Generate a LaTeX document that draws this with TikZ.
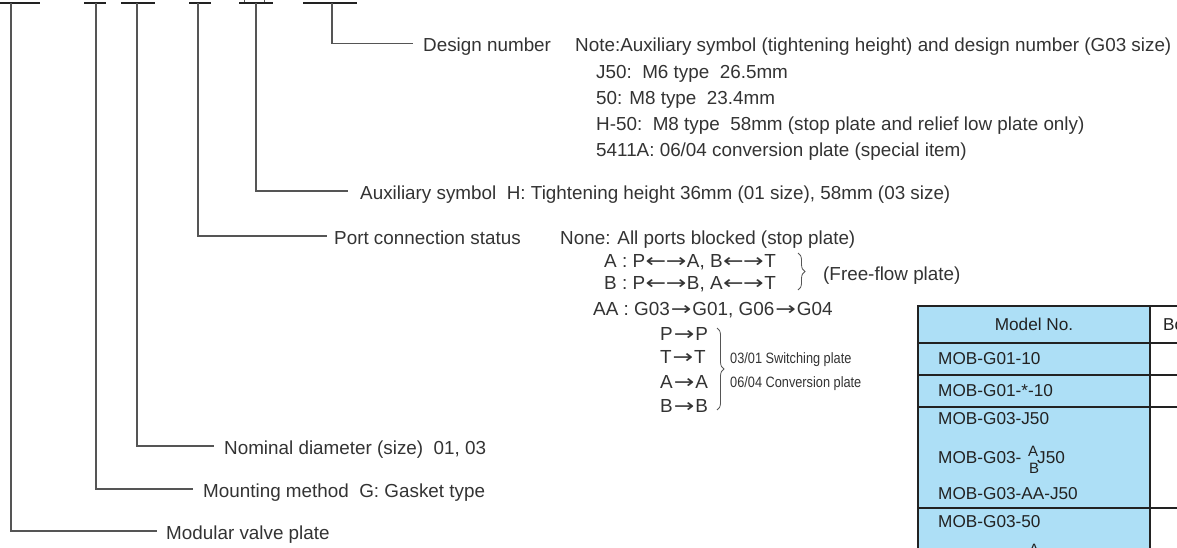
\documentclass[tikz,border=0pt]{standalone}
\usepackage{fontspec}
\setmainfont{Liberation Sans}
\newfontfamily\condfont[FakeStretch=0.85]{Liberation Sans}
\newfontfamily\arrfont{DejaVu Sans}
\newcommand{\lra}{{\kern0.03em\arrfont\scalebox{1.3}[1]{←}\kern-0.03em\scalebox{1.3}[1]{→}\kern0.03em}}
\newcommand{\ra}{{\kern0.05em\arrfont\scalebox{1.3}[1]{→}\kern0.05em}}
\usetikzlibrary{decorations.pathreplacing}
\definecolor{txt}{HTML}{333333}
\definecolor{lead}{HTML}{555555}
\definecolor{tblue}{HTML}{ADDFF6}
\definecolor{tline}{HTML}{222222}
\begin{document}
\begin{tikzpicture}[x=1pt,y=-1pt,
 lbl/.style={anchor=base west, inner sep=0pt, text height=16pt, text depth=0pt, text=txt, font=\fontsize{18.85}{22}\selectfont},
 arrt/.style={anchor=base west, inner sep=0pt, text=txt, font=\fontsize{18.9}{22}\selectfont},
 cond/.style={anchor=base west, inner sep=0pt, text=txt, font=\condfont\fontsize{15}{18}\selectfont},
 tbl/.style={anchor=base west, inner sep=0pt, text=tline, font=\fontsize{17.2}{20}\selectfont},
 small/.style={anchor=base, inner sep=0pt, text=tline, font=\fontsize{15}{16}\selectfont},
 bar/.style={draw=tline, line width=1.4pt},
 leader/.style={draw=lead, line width=1.2pt},
 brc/.style={draw=lead, line width=0.8pt, decorate, decoration={brace, amplitude=7pt}},
 gridline/.style={draw=tline, line width=2.2pt}
]
\useasboundingbox (0,0) rectangle (1177,547);
\clip (0,0) rectangle (1177,547);

% top bars
\draw[bar] (0,3) -- (40,3);
\draw[bar] (84,3) -- (106,3);
\draw[bar] (121,3) -- (155,3);
\draw[bar] (189,3) -- (211,3);
\draw[bar] (239,3) -- (273,3);
\draw[bar] (303,3) -- (357,3);
\draw[lead, line width=0.8pt] (244,0) -- (244,1.5) (264,0) -- (264,1.5);
\coordinate (s1) at (11,3);
\coordinate (s2) at (96,3);
\coordinate (s3) at (137,3);
\coordinate (s4) at (198,3);
\coordinate (s5) at (256,3);
\coordinate (s6) at (332,3);

% labels
\node[lbl] (l6) at (423,51.5) {Design number};
\node[lbl] (note) at (575,51.5) {Note:Auxiliary symbol (tightening height) and design number (G03 size)};
\node[lbl] (n1) at (596,78) {J50:\ \ M6 type\ \ 26.5mm};
\node[lbl] (n2) at (596,104) {50: M8 type\ \ 23.4mm};
\node[lbl] (n3) at (596,130) {H-50:\ \ M8 type\ \ 58mm (stop plate and relief low plate only)};
\node[lbl] (n4) at (596,156) {5411A: 06/04 conversion plate (special item)};
\node[lbl] (l5) at (360,199) {Auxiliary symbol\ \ H: Tightening height 36mm (01 size), 58mm (03 size)};
\node[lbl] (l4) at (334,244) {Port connection status};
\node[lbl] (none) at (560,244) {None: All ports blocked (stop plate)};
\node[lbl] (l3) at (224,454) {Nominal diameter (size)\ \ 01, 03};
\node[lbl] (l2) at (203,497) {Mounting method\ \ G: Gasket type};
\node[lbl] (l1) at (166,539) {Modular valve plate};

% leaders
\draw[leader] (s6) |- ([xshift=-10pt]l6.west);
\draw[leader] (s5) |- ([xshift=-12pt]l5.west);
\draw[leader] (s4) |- ([xshift=-7pt]l4.west);
\draw[leader] (s3) |- ([xshift=-10pt]l3.west);
\draw[leader] (s2) |- ([xshift=-10pt]l2.west);
\draw[leader] (s1) |- ([xshift=-9pt]l1.west);

% port connection details
\node[arrt] (pa) at (604,267) {A : P\lra A, B\lra T};
\node[arrt] (pb) at (604,289) {B : P\lra B, A\lra T};
\node[arrt] (paa) at (593,315) {AA : G03\ra G01, G06\ra G04};
\node[arrt] (pp) at (660,340) {P\ra P};
\node[arrt] (tt) at (660,363) {T\ra T};
\node[arrt] (aa) at (660,388) {A\ra A};
\node[arrt] (bb) at (660,412) {B\ra B};
\coordinate (br1a) at (798,253);
\coordinate (br1b) at (798,290);
\draw[brc] (br1a) -- (br1b);
\node[lbl] (free) at (823,280) {(Free-flow plate)};
\coordinate (br2a) at (717,328);
\coordinate (br2b) at (717,410);
\draw[brc] (br2a) -- (br2b);
\node[cond] (sw) at (730,363) {03/01 Switching plate};
\node[cond] (cv) at (730,387) {06/04 Conversion plate};

% table
\fill[tblue] (918,306) rectangle (1150,550);
\draw[gridline] (1180,306) -- (918,306) -- (918,550);
\draw[gridline] (1150,306) -- (1150,550);
\foreach \yy in {343,375,407,508} \draw[gridline] (918,\yy) -- (1180,\yy);
\node[tbl, anchor=base] (hdr) at (1034,330) {Model No.};
\node[tbl] (hdr2) at (1163,330) {Bo};
\node[tbl] (r1) at (938,364) {MOB-G01-10};
\node[tbl] (r2) at (938,396) {MOB-G01-*-10};
\node[tbl] (r3) at (938,424) {MOB-G03-J50};
\node[tbl] (r4) at (938,463) {MOB-G03-};
\node[small] (r4a) at (1033,456) {A};
\node[small] (r4b) at (1034,473) {B};
\node[tbl] (r4c) at (1037,463) {J50};
\node[tbl] (r5) at (938,499) {MOB-G03-AA-J50};
\node[tbl] (r6) at (938,527) {MOB-G03-50};
\node[small] (r7a) at (1034,554) {A};
\end{tikzpicture}
\end{document}
